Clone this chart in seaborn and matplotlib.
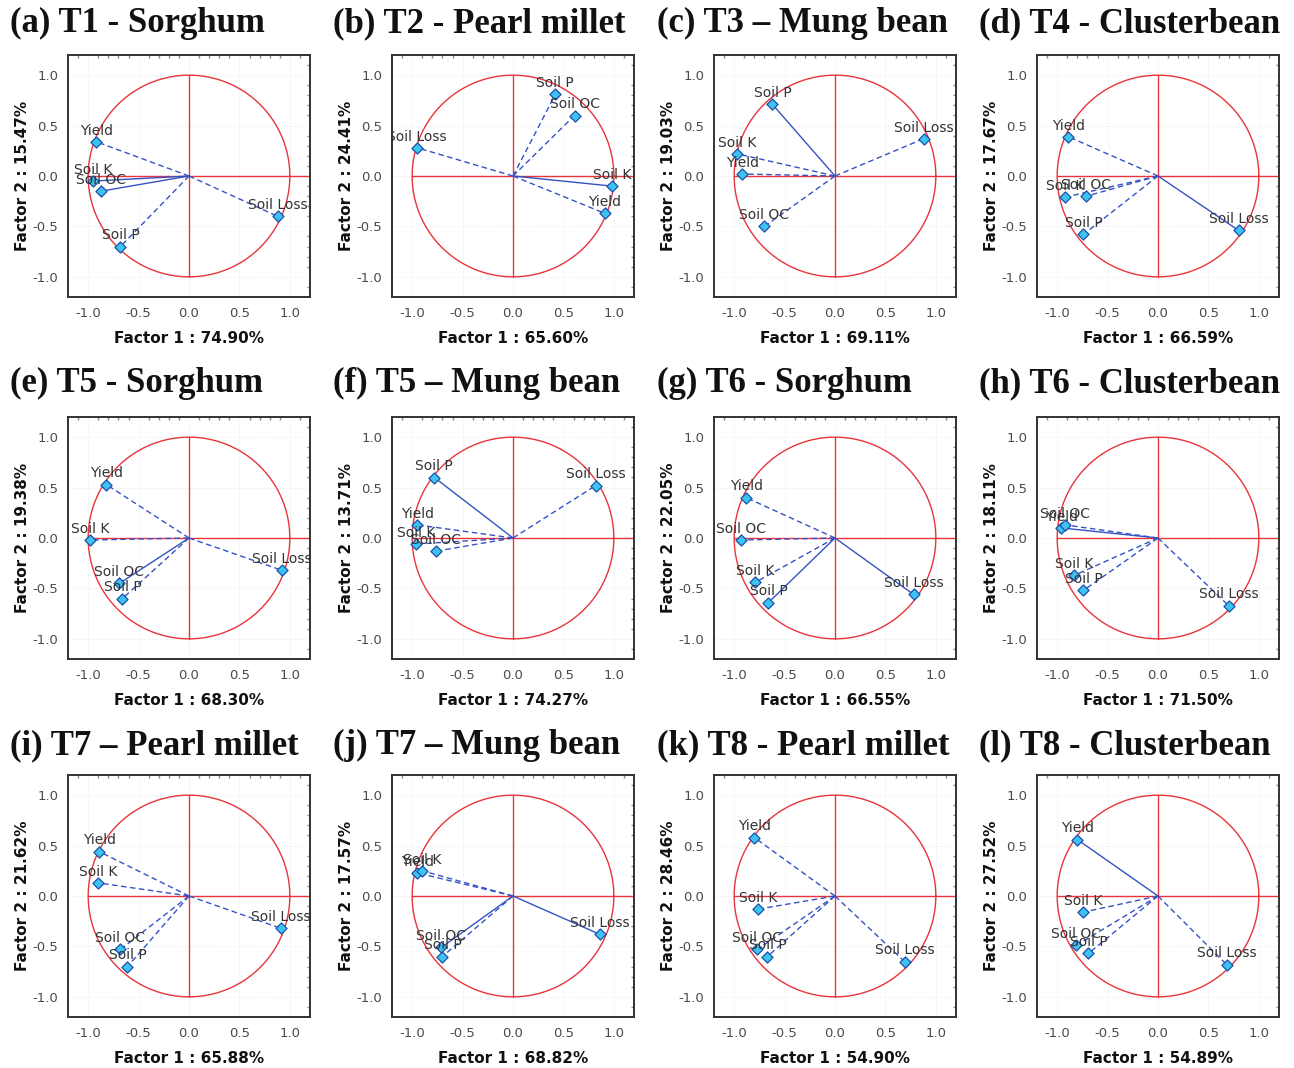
import numpy as np
import matplotlib
matplotlib.use("Agg")
import matplotlib.pyplot as plt
import seaborn as sns
import pandas as pd

# ---------------- data ----------------
variables = ["Yield", "Soil K", "Soil P", "Soil OC", "Soil Loss"]

titles = ["(a) T1 - Sorghum", "(b) T2 - Pearl millet", "(c) T3 \u2013 Mung bean", "(d) T4 - Clusterbean",
          "(e) T5 - Sorghum", "(f) T5 \u2013 Mung bean", "(g) T6 - Sorghum", "(h) T6 - Clusterbean",
          "(i) T7 \u2013 Pearl millet", "(j) T7 \u2013 Mung bean", "(k) T8 - Pearl millet", "(l) T8 - Clusterbean"]

factor1_pct = ["74.90", "65.60", "69.11", "66.59", "68.30", "74.27", "66.55", "71.50", "65.88", "68.82", "54.90", "54.89"]
factor2_pct = ["15.47", "24.41", "19.03", "17.67", "19.38", "13.71", "22.05", "18.11", "21.62", "17.57", "28.46", "27.52"]

# loadings per panel, order: Yield, Soil K, Soil P, Soil OC, Soil Loss
f1_a = [-0.92, -0.95, -0.68, -0.87, 0.88]
f2_a = [0.34, -0.05, -0.70, -0.15, -0.40]
f1_b = [0.91, 0.98, 0.42, 0.61, -0.95]
f2_b = [-0.37, -0.10, 0.81, 0.60, 0.28]
f1_c = [-0.92, -0.97, -0.62, -0.70, 0.88]
f2_c = [0.02, 0.22, 0.71, -0.50, 0.37]
f1_d = [-0.89, -0.92, -0.74, -0.71, 0.80]
f2_d = [0.39, -0.21, -0.58, -0.20, -0.54]
f1_e = [-0.82, -0.98, -0.66, -0.69, 0.92]
f2_e = [0.53, -0.02, -0.60, -0.45, -0.32]
f1_f = [-0.95, -0.96, -0.78, -0.76, 0.82]
f2_f = [0.13, -0.06, 0.60, -0.13, 0.52]
f1_g = [-0.88, -0.79, -0.66, -0.93, 0.78]
f2_g = [0.40, -0.44, -0.64, -0.02, -0.56]
f1_h = [-0.96, -0.83, -0.74, -0.92, 0.70]
f2_h = [0.10, -0.37, -0.52, 0.13, -0.67]
f1_i = [-0.89, -0.90, -0.61, -0.68, 0.91]
f2_i = [0.44, 0.13, -0.70, -0.53, -0.32]
f1_j = [-0.95, -0.90, -0.70, -0.71, 0.86]
f2_j = [0.23, 0.25, -0.60, -0.51, -0.38]
f1_k = [-0.80, -0.76, -0.67, -0.77, 0.69]
f2_k = [0.58, -0.13, -0.60, -0.53, -0.65]
f1_l = [-0.80, -0.74, -0.69, -0.81, 0.68]
f2_l = [0.56, -0.16, -0.57, -0.49, -0.68]

factor1 = [f1_a, f1_b, f1_c, f1_d, f1_e, f1_f, f1_g, f1_h, f1_i, f1_j, f1_k, f1_l]
factor2 = [f2_a, f2_b, f2_c, f2_d, f2_e, f2_f, f2_g, f2_h, f2_i, f2_j, f2_k, f2_l]

# line style per vector (solid or dashed), same order as variables
styles = [
    ["--", "-", "--", "-", "--"],
    ["--", "-", "--", "--", "--"],
    ["--", "--", "-", "--", "--"],
    ["--", "--", "--", "--", "-"],
    ["--", "--", "--", "-", "--"],
    ["--", "--", "-", "--", "--"],
    ["--", "--", "-", "--", "-"],
    ["-", "--", "--", "--", "--"],
    ["--", "--", "--", "--", "--"],
    ["--", "--", "--", "-", "-"],
    ["--", "--", "--", "--", "--"],
    ["-", "--", "--", "--", "--"],
]

ticks = [-1.0, -0.5, 0.0, 0.5, 1.0]
tick_labels = ["-1.0", "-0.5", "0.0", "0.5", "1.0"]

# ---------------- style ----------------
sns.set_theme(style="white")
plt.rcParams["font.family"] = ["DejaVu Sans"]
plt.rcParams["axes.unicode_minus"] = False

W, H = 1294, 1068
fig = plt.figure(figsize=(W / 100, H / 100), dpi=100)

col_left = [68, 392, 714, 1037]
row_top = [55, 417, 775]
title_x = [10, 333, 657, 979]
title_base = [32, 392, 754]
ax_w = 242
ax_h = 242

red = "#e8343a"
blue = "#3552c4"
mfill = "#3cc3f0"
medge = "#1f4fa8"

theta = np.linspace(0, 2 * np.pi, 400)

for k in range(12):
    r, c = divmod(k, 4)
    left = col_left[c] / W
    bottom = 1 - (row_top[r] + ax_h) / H
    ax = fig.add_axes([left, bottom, ax_w / W, ax_h / H])
    ax.set_xlim(-1.2, 1.2)
    ax.set_ylim(-1.2, 1.2)

    # faint grid
    for t in ticks:
        ax.axvline(t, color="#ececec", lw=0.6, ls=(0, (1, 1)), zorder=0)
        ax.axhline(t, color="#ececec", lw=0.6, ls=(0, (1, 1)), zorder=0)

    # unit circle and axes lines
    ax.plot(np.cos(theta), np.sin(theta), color=red, lw=1.0, zorder=1)
    ax.plot([-1.0, 1.2], [0, 0], color=red, lw=1.0, zorder=1)
    ax.plot([0, 0], [-1.0, 1.0], color=red, lw=1.0, zorder=1)

    df = pd.DataFrame({"var": variables, "f1": factor1[k], "f2": factor2[k]})
    for i, row in df.iterrows():
        ls = styles[k][i]
        ax.plot([0, row.f1], [0, row.f2], color=blue, lw=1.0,
                ls=ls if ls == "-" else (0, (4, 2.5)), zorder=2)
    sns.scatterplot(data=df, x="f1", y="f2", ax=ax, marker="D", s=32,
                    color=mfill, edgecolor=medge, linewidth=0.9, zorder=3, legend=False)
    for i, row in df.iterrows():
        ax.annotate(row["var"], (row.f1, row.f2), xytext=(0, 3), textcoords="offset points",
                    ha="center", va="bottom", fontsize=10, color="#333333",
                    annotation_clip=False, clip_on=True, zorder=4)

    ax.set_xticks(ticks)
    ax.set_yticks(ticks)
    ax.set_xticklabels(tick_labels)
    ax.set_yticklabels(tick_labels)
    ax.tick_params(axis="both", which="major", labelsize=9.5, labelcolor="#4a4a4a",
                   length=0, pad=7)
    ax.set_xticks(np.arange(-1.1, 1.2, 0.1), minor=True)
    ax.set_yticks(np.arange(-1.1, 1.2, 0.1), minor=True)
    ax.tick_params(which="minor", direction="in", length=2, color="#888888",
                   top=True, right=True, bottom=False, left=False)

    for s in ax.spines.values():
        s.set_color("#333333")
        s.set_linewidth(1.4)

    ax.set_xlabel(f"Factor 1 : {factor1_pct[k]}%", fontsize=11, fontweight="bold", color="#111111")
    ax.set_ylabel(f"Factor 2 : {factor2_pct[k]}%", fontsize=11, fontweight="bold", color="#111111")
    ax.xaxis.set_label_coords(0.5, -0.14)
    ax.yaxis.set_label_coords(-0.155, 0.5)

    fig.text(title_x[c] / W, 1 - title_base[r] / H, titles[k], ha="left", va="baseline",
             fontsize=25, fontweight="bold", family=["Liberation Serif"], color="#111111")

fig.savefig("out.png", dpi=100)
